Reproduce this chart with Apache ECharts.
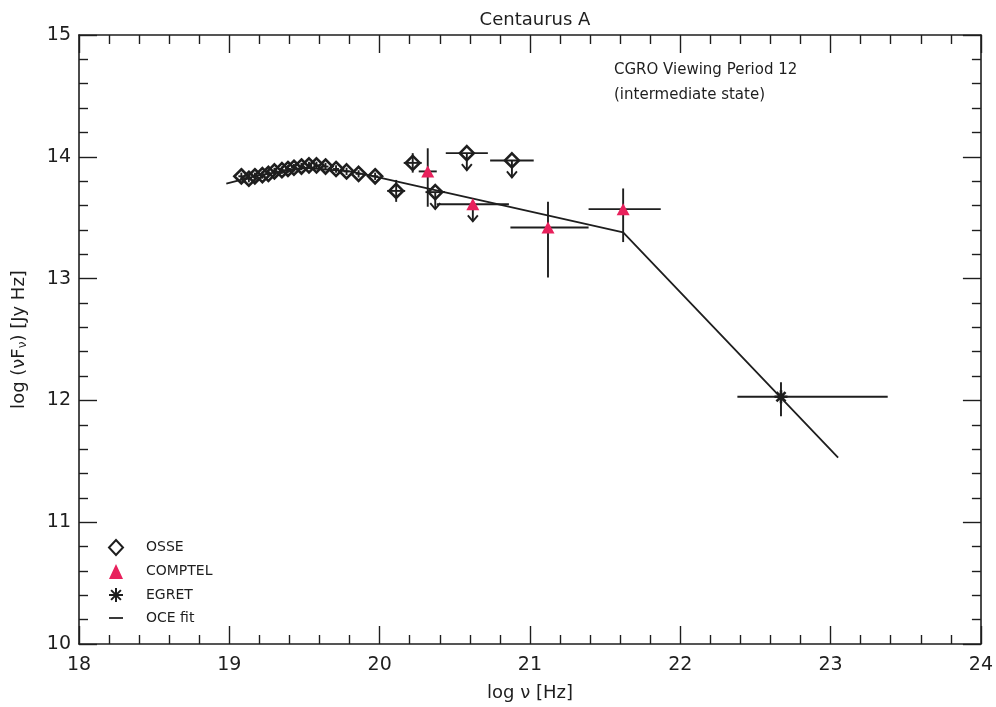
<!DOCTYPE html>
<html>
<head>
<meta charset="utf-8">
<script src="https://cdn.jsdelivr.net/npm/echarts@6/dist/echarts.min.js"></script>
<style>
  html, body { margin: 0; padding: 0; background: #fff; }
  #chart { width: 996px; height: 707px; }
</style>
</head>
<body>
<div id="chart"></div>
<script>
// OSSE points (log nu, log nuFnu), half widths of the error bars, 1 = upper limit
const osseX    = [19.08, 19.13, 19.17, 19.22, 19.26, 19.30, 19.35, 19.39, 19.43, 19.48, 19.53, 19.58, 19.64, 19.71, 19.78, 19.86, 19.97, 20.11, 20.22, 20.37, 20.58, 20.88];
const osseY    = [13.84, 13.82, 13.84, 13.85, 13.86, 13.88, 13.89, 13.90, 13.91, 13.92, 13.93, 13.93, 13.92, 13.90, 13.88, 13.86, 13.84, 13.72, 13.95, 13.71, 14.03, 13.97];
const osseXErr = [0.02, 0.02, 0.02, 0.02, 0.02, 0.02, 0.02, 0.02, 0.02, 0.02, 0.02, 0.02, 0.02, 0.02, 0.02, 0.02, 0.02, 0.06, 0.06, 0.065, 0.14, 0.145];
const osseYErr = [0.03, 0.03, 0.03, 0.03, 0.03, 0.03, 0.03, 0.03, 0.03, 0.03, 0.03, 0.03, 0.03, 0.03, 0.03, 0.03, 0.03, 0.09, 0.08, 0, 0, 0];
const osseLim  = [0, 0, 0, 0, 0, 0, 0, 0, 0, 0, 0, 0, 0, 0, 0, 0, 0, 0, 0, 1, 1, 1];

// COMPTEL
const comptelX   = [20.32, 20.62, 21.12, 21.62];
const comptelY   = [13.88, 13.61, 13.42, 13.57];
const comptelXLo = [20.26, 20.38, 20.87, 21.39];
const comptelXHi = [20.38, 20.86, 21.39, 21.87];
const comptelYLo = [13.59, 13.61, 13.01, 13.30];
const comptelYHi = [14.07, 13.61, 13.63, 13.74];
const comptelLim = [0, 1, 0, 0];

// EGRET
const egretX   = [22.67];
const egretY   = [12.03];
const egretXLo = [22.38];
const egretXHi = [23.38];
const egretYLo = [11.87];
const egretYHi = [12.15];

// OCE fit
const fitX = [18.98, 19.2, 19.5, 19.8, 20.0, 21.62, 23.05];
const fitY = [13.78, 13.85, 13.91, 13.88, 13.83, 13.38, 11.53];

const FONT = 'DejaVu Sans';
const INK = '#1e1e1e';
const PINK = '#e8215c';
const STAR = 'path://M0,-10 L0,10 M-10,0 L10,0 M-7,-7 L7,7 M-7,7 L7,-7';

// [x, y, xLo, xHi, yLo, yHi, limit]
let errData = [];
osseX.forEach((x, i) => {
  errData.push([x, osseY[i], x - osseXErr[i], x + osseXErr[i], osseY[i] - osseYErr[i], osseY[i] + osseYErr[i], osseLim[i]]);
});
comptelX.forEach((x, i) => {
  errData.push([x, comptelY[i], comptelXLo[i], comptelXHi[i], comptelYLo[i], comptelYHi[i], comptelLim[i]]);
});
egretX.forEach((x, i) => {
  errData.push([x, egretY[i], egretXLo[i], egretXHi[i], egretYLo[i], egretYHi[i], 0]);
});

function renderErr(params, api) {
  const x = api.value(0), y = api.value(1);
  const c = api.coord([x, y]);
  const l = api.coord([api.value(2), y]);
  const r = api.coord([api.value(3), y]);
  const b = api.coord([x, api.value(4)]);
  const t = api.coord([x, api.value(5)]);
  const st = { stroke: INK, lineWidth: 1.9 };
  const kids = [];
  kids.push({ type: 'line', shape: { x1: l[0], y1: l[1], x2: r[0], y2: r[1] }, style: st });
  if (t[1] !== b[1]) {
    kids.push({ type: 'line', shape: { x1: t[0], y1: t[1], x2: b[0], y2: b[1] }, style: st });
  }
  if (api.value(6)) {
    const tip = c[1] + 17;
    kids.push({ type: 'line', shape: { x1: c[0], y1: c[1], x2: c[0], y2: tip }, style: st });
    kids.push({ type: 'polyline', shape: { points: [[c[0] - 5, tip - 6], [c[0], tip], [c[0] + 5, tip - 6]] }, style: { stroke: INK, lineWidth: 1.9, fill: null } });
  }
  return { type: 'group', children: kids };
}

const chart = echarts.init(document.getElementById('chart'), null, { renderer: 'canvas' });

function axisBase(pos, showLabel) {
  return {
    type: 'value',
    position: pos,
    axisLine: { show: true, onZero: false, lineStyle: { color: INK, width: 1.6 } },
    axisTick: { show: true, inside: true, length: 18, lineStyle: { color: INK, width: 1.4 } },
    minorTick: { show: true, splitNumber: 5, length: 9, lineStyle: { color: INK, width: 1.4 } },
    splitLine: { show: false },
    axisLabel: { show: showLabel, color: INK, fontFamily: FONT, fontSize: 18 }
  };
}

const option = {
  animation: false,
  backgroundColor: '#fff',
  title: {
    text: 'Centaurus A',
    left: 530,
    textAlign: 'center',
    top: 6,
    textStyle: { fontFamily: FONT, fontSize: 18, fontWeight: 'normal', color: INK }
  },
  grid: { left: 79, right: 15, top: 35, bottom: 62 },
  xAxis: [
    Object.assign(axisBase('bottom', true), {
      min: 18, max: 24, interval: 1,
      name: 'log \u03bd [Hz]', nameLocation: 'middle', nameGap: 40,
      nameTextStyle: { fontFamily: FONT, fontSize: 18, color: INK },
      axisLabel: { show: true, color: INK, fontFamily: FONT, fontSize: 19, margin: 12 }
    }),
    Object.assign(axisBase('top', false), { min: 18, max: 24, interval: 1 })
  ],
  yAxis: [
    Object.assign(axisBase('left', true), {
      min: 10, max: 15, interval: 1,
      name: 'log (\u03bdF{s|\u03bd}) [Jy Hz]', nameLocation: 'middle', nameGap: 50,
      nameTextStyle: { fontFamily: FONT, fontSize: 18, color: INK,
        rich: { s: { fontFamily: FONT, fontSize: 12, color: INK, verticalAlign: 'bottom', padding: [8, 0, 0, 0] } } },
      axisLabel: { show: true, color: INK, fontFamily: FONT, fontSize: 19, margin: 8 }
    }),
    Object.assign(axisBase('right', false), { min: 10, max: 15, interval: 1 })
  ],
  legend: {
    orient: 'vertical',
    left: 103,
    top: 534,
    itemGap: 8,
    itemWidth: 14,
    itemHeight: 15,
    textStyle: { fontFamily: FONT, fontSize: 14, color: INK, padding: [0, 0, 0, 18] },
    data: [
      { name: 'OSSE' },
      { name: 'COMPTEL' },
      { name: 'EGRET' },
      { name: 'OCE fit', icon: 'path://M0,0 L16,0 L16,2 L0,2 Z' }
    ]
  },
  graphic: [
    {
      type: 'text', left: 614, top: 58,
      style: { text: 'CGRO Viewing Period 12\n(intermediate state)', fontFamily: FONT, fontSize: 15, lineHeight: 25, fill: INK }
    }
  ],
  series: [
    {
      name: 'OCE fit',
      type: 'line',
      data: fitX.map((x, i) => [x, fitY[i]]),
      showSymbol: false,
      smooth: false,
      lineStyle: { color: INK, width: 1.8 },
      itemStyle: { color: INK },
      z: 2
    },
    {
      name: 'errors',
      type: 'custom',
      renderItem: renderErr,
      data: errData,
      encode: { x: 0, y: 1 },
      z: 3
    },
    {
      name: 'OSSE',
      type: 'scatter',
      symbol: 'diamond',
      symbolSize: 14,
      data: osseX.map((x, i) => [x, osseY[i]]),
      itemStyle: { color: 'rgba(255,255,255,0)', borderColor: INK, borderWidth: 2.6, opacity: 1 },
      z: 4
    },
    {
      name: 'COMPTEL',
      type: 'scatter',
      symbol: 'triangle',
      symbolSize: [13, 12],
      data: comptelX.map((x, i) => [x, comptelY[i]]),
      itemStyle: { color: PINK, opacity: 1 },
      z: 5
    },
    {
      name: 'EGRET',
      type: 'scatter',
      symbol: STAR,
      symbolSize: 13,
      data: egretX.map((x, i) => [x, egretY[i]]),
      itemStyle: { color: INK, borderColor: INK, borderWidth: 2.6, opacity: 1 },
      z: 5
    }
  ]
};

chart.setOption(option);
</script>
</body>
</html>
